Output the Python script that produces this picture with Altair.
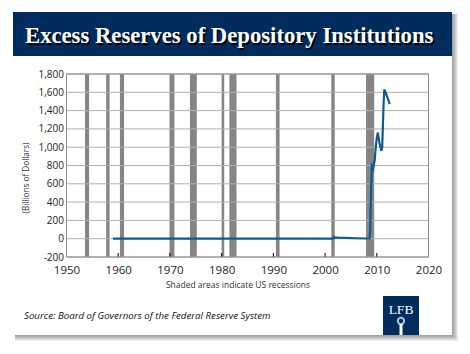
import altair as alt
import pandas as pd

title_text = "Excess Reserves of Depository Institutions"
source_text = "Source: Board of Governors of the Federal Reserve System"
x_title = "Shaded areas indicate US recessions"
y_title = "(Billions of Dollars)"
logo_text = "LFB"

years = [1959.0, 1965.0, 1970.0, 1975.0, 1980.0, 1985.0, 1990.0, 1995.0, 2000.0, 2001.6,
         2001.7, 2001.8, 2002.5, 2004.0, 2006.0, 2008.0, 2008.6, 2008.7, 2008.8, 2008.95,
         2009.05, 2009.2, 2009.4, 2009.6, 2009.8, 2010.0, 2010.2, 2010.5, 2010.9, 2011.05,
         2011.3, 2011.45, 2011.7, 2011.9, 2012.2, 2012.5]
reserves = [0.5, 0.4, 0.2, 0.3, 0.5, 0.8, 1.0, 1.1, 1.2, 1.5,
            20, 14, 11, 8, 5, 2, 2, 60, 300, 600,
            820, 730, 800, 860, 1000, 1100, 1160, 1050, 960, 1000,
            1450, 1630, 1600, 1570, 1520, 1470]

rec_start = [1953.58, 1957.67, 1960.33, 1969.92, 1973.87, 1980.0, 1981.5, 1990.5, 2001.2, 2007.92]
rec_end = [1954.37, 1958.33, 1961.13, 1970.87, 1975.2, 1980.5, 1982.87, 1991.2, 2001.87, 2009.5]

x_ticks = [1950, 1960, 1970, 1980, 1990, 2000, 2010, 2020]
y_ticks = [-200, 0, 200, 400, 600, 800, 1000, 1200, 1400, 1600, 1800]

W, H = 362, 183
PL, PT = 66.5, 74
TOTAL_W, TOTAL_H = 470, 354

NAVY = "#022c5e"
LINE = "#0f5a8f"
REC = "#858585"
GRID = "#b0b0b0"
FONT = "Open Sans"

def px(x):
    return x - PL

def py(y):
    return y - PT

x_scale = alt.Scale(domain=[1950, 2020], nice=False, zero=False)
y_scale = alt.Scale(domain=[-200, 1800], nice=False)

x_axis = alt.Axis(values=x_ticks, format="d", ticks=False, domain=False, grid=False,
                  labelFont=FONT, labelFontSize=11.5, labelColor="#222", labelPadding=7,
                  labelFlush=False,
                  title=x_title, titleFont=FONT, titleFontSize=8.5, titleFontWeight="normal",
                  titleColor="#333", titlePadding=5, titleX=171, zindex=1)
y_axis = alt.Axis(values=y_ticks, ticks=False, domain=False, grid=False,
                  labelExpr="replace(format(datum.value, ','), '\u2212', '-')",
                  labelFont=FONT, labelFontSize=10, labelColor="#222", labelPadding=3,
                  title=y_title, titleFont=FONT, titleFontSize=8.2, titleFontWeight="normal",
                  titleColor="#333", titleX=-36.5, titleY=103.5, zindex=1)

one = alt.Data(values=[{}])

def box(x1, y1, x2, y2, **kw):
    return alt.Chart(one).mark_rect(**kw).encode(
        x=alt.value(px(x1)), x2=alt.value(px(x2)),
        y=alt.value(py(y1)), y2=alt.value(py(y2)))

layers = []
# card shadow
for i in range(1, 7):
    layers.append(box(13 + 2, 12 + 2, 452 + i, 335 + i, color="#000000", opacity=0.07))
# card
layers.append(box(13, 12, 452, 335, color="#ffffff"))
# header
layers.append(box(13, 12, 452, 56, color=NAVY))
# title shadow and title
layers.append(alt.Chart(one).mark_text(font="Liberation Serif", fontWeight="bold", fontSize=22.7,
                                        align="left", baseline="alphabetic", color="#000000").encode(
    x=alt.value(px(25) + 1.5), y=alt.value(py(43) + 1.5), text=alt.value(title_text)))
layers.append(alt.Chart(one).mark_text(font="Liberation Serif", fontWeight="bold", fontSize=22.7,
                                        align="left", baseline="alphabetic", color="#ffffff").encode(
    x=alt.value(px(25)), y=alt.value(py(43)), text=alt.value(title_text)))
# source text
layers.append(alt.Chart(one).mark_text(font=FONT, fontStyle="italic", fontSize=9.7,
                                        align="left", baseline="middle", color="#111111").encode(
    x=alt.value(px(24)), y=alt.value(py(316)), text=alt.value(source_text)))
# logo
layers.append(box(383, 296, 419, 335, color=NAVY))
layers.append(alt.Chart(one).mark_text(font="Liberation Serif", fontSize=13.5,
                                        align="center", baseline="alphabetic", color="#ffffff").encode(
    x=alt.value(px(401)), y=alt.value(py(314)), text=alt.value(logo_text)))
layers.append(alt.Chart(one).mark_point(shape="circle", filled=False, stroke="#ffffff",
                                         strokeWidth=2, size=40).encode(
    x=alt.value(px(401)), y=alt.value(py(321))))
layers.append(box(399.5, 324, 402.5, 335, color="#ffffff"))

# recessions
rec_df = pd.DataFrame({"start": rec_start, "end": rec_end})
layers.append(alt.Chart(rec_df).mark_rect(color=REC).encode(
    x=alt.X("start:Q", scale=x_scale, axis=x_axis),
    x2="end:Q",
    y=alt.value(0), y2=alt.value(H)))

# gridlines
grid_df = pd.DataFrame({"v": y_ticks})
layers.append(alt.Chart(grid_df).mark_rule(color=GRID, strokeWidth=1).encode(
    y=alt.Y("v:Q", scale=y_scale, axis=y_axis),
    x=alt.value(0), x2=alt.value(W)))

# line
line_df = pd.DataFrame({"year": years, "reserves": reserves})
layers.append(alt.Chart(line_df).mark_line(color=LINE, strokeWidth=2.2).encode(
    x=alt.X("year:Q", scale=x_scale, axis=x_axis),
    y=alt.Y("reserves:Q", scale=y_scale, axis=y_axis)))

# x ticks inside
tick_df = pd.DataFrame({"t": x_ticks})
layers.append(alt.Chart(tick_df).mark_rule(color="#000000", strokeWidth=1).encode(
    x=alt.X("t:Q", scale=x_scale, axis=x_axis),
    y=alt.value(H - 4), y2=alt.value(H)))

# border
layers.append(alt.Chart(one).mark_rect(filled=False, stroke="#8a8a8a", strokeWidth=1).encode(
    x=alt.value(0), x2=alt.value(W), y=alt.value(0), y2=alt.value(H)))

chart = alt.layer(*layers).properties(
    width=W, height=H,
    autosize=alt.AutoSizeParams(type="none"),
    padding={"left": PL, "top": PT, "right": TOTAL_W - PL - W, "bottom": TOTAL_H - PT - H},
    background="#ffffff",
).configure_view(strokeWidth=0)

chart.save("out.html", embed_options={"renderer": "svg", "actions": False})
